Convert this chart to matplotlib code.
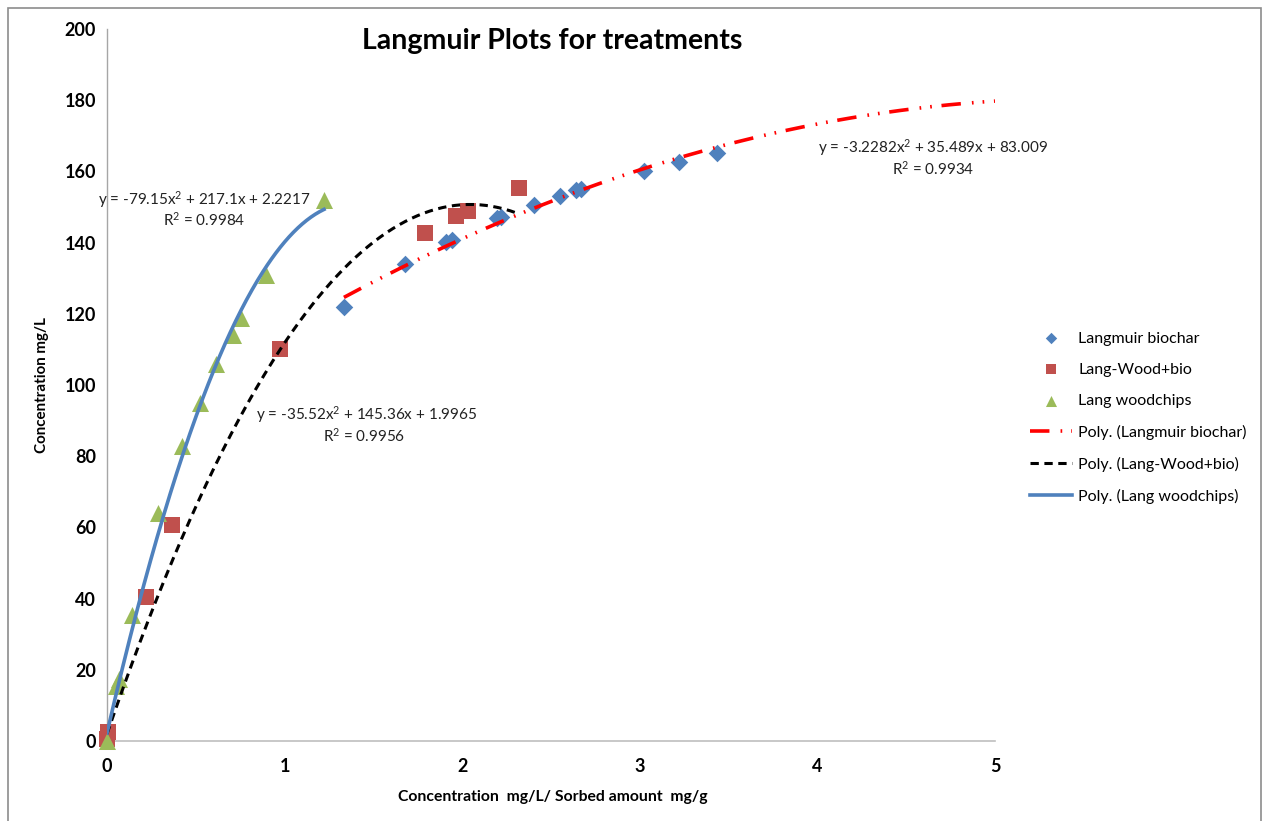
import numpy as np
import matplotlib
matplotlib.use("Agg")
import matplotlib.pyplot as plt
from matplotlib.patches import Rectangle

plt.rcParams['font.family'] = ['Lato', 'DejaVu Sans']
plt.rcParams['mathtext.fontset'] = 'custom'
plt.rcParams['mathtext.rm'] = 'Lato'
plt.rcParams['mathtext.it'] = 'Lato:italic'
plt.rcParams['mathtext.bf'] = 'Lato:bold'
plt.rcParams['lines.scale_dashes'] = False

# Langmuir biochar
biochar_x = [1.334, 1.678, 1.909, 1.943, 2.196, 2.218, 2.404, 2.551, 2.640, 2.669, 3.024, 3.220, 3.435]
biochar_y = [121.9, 134.0, 140.2, 140.7, 146.9, 147.2, 150.6, 153.1, 154.8, 155.1, 160.1, 162.6, 165.2]

# Lang-Wood+bio
woodbio_x = [0.000, 0.005, 0.220, 0.366, 0.974, 1.790, 1.965, 2.033, 2.320]
woodbio_y = [0.5, 2.5, 40.4, 60.7, 110.1, 142.7, 147.5, 148.9, 155.3]

# Lang woodchips
wood_x = [0.000, 0.050, 0.065, 0.141, 0.287, 0.422, 0.524, 0.614, 0.709, 0.754, 0.895, 1.222]
wood_y = [0.0, 15.5, 17.5, 35.4, 64.0, 82.9, 94.9, 105.9, 114.0, 118.8, 130.9, 152.0]

# Second-order polynomial trendline coefficients (a, b, c) for y = a x^2 + b x + c
biochar_fit = (-3.2282, 35.489, 83.009)
woodbio_fit = (-35.52, 145.36, 1.9965)
wood_fit = (-79.15, 217.1, 2.2217)

x_ticks = [0, 1, 2, 3, 4, 5]
y_ticks = [0, 20, 40, 60, 80, 100, 120, 140, 160, 180, 200]

W, H = 1266, 821
fig = plt.figure(figsize=(W / 100, H / 100), dpi=100)
fig.patch.set_facecolor('white')
fig.add_artist(Rectangle((8 / W, -0.05), (1261 - 8) / W, 1.05 - 8 / H,
                         transform=fig.transFigure, fill=False,
                         edgecolor='#8C8C8C', linewidth=1.2))

ax = fig.add_axes([107 / W, 1 - 741 / H, (995 - 107) / W, (741 - 29) / H])
ax.set_xlim(0, 5)
ax.set_ylim(0, 200)
for s in ['top', 'right']:
    ax.spines[s].set_visible(False)
ax.spines['left'].set_color('#A6A6A6')
ax.spines['bottom'].set_color('#BFBFBF')
ax.spines['left'].set_linewidth(1.0)
ax.spines['bottom'].set_linewidth(1.2)
ax.set_xticks(x_ticks)
ax.set_yticks(y_ticks)
ax.tick_params(length=0, labelsize=13)
for lab in ax.get_xticklabels() + ax.get_yticklabels():
    lab.set_fontweight('bold')
ax.tick_params(axis='y', pad=8)
ax.tick_params(axis='x', pad=12)


def poly(c, x):
    return c[0] * x ** 2 + c[1] * x + c[2]


xb = np.linspace(min(biochar_x), 5.0, 200)
xw = np.linspace(0, max(woodbio_x), 200)
xc = np.linspace(0, max(wood_x), 200)

ax.scatter(biochar_x, biochar_y, marker='D', s=80, color='#4F81BD', zorder=3,
           label='Langmuir biochar', linewidths=0, clip_on=False)
ax.scatter(woodbio_x, woodbio_y, marker='s', s=140, color='#C0504D', zorder=3,
           label='Lang-Wood+bio', linewidths=0, clip_on=False)
ax.scatter(wood_x, wood_y, marker='^', s=150, color='#9BBB59', zorder=3,
           label='Lang woodchips', linewidths=0, clip_on=False)

ax.plot(xb, poly(biochar_fit, xb), color='#FF0000', lw=2.6,
        dashes=(14, 8, 1.2, 6.5, 1.2, 7), zorder=4, label='Poly. (Langmuir biochar)')
ax.plot(xw, poly(woodbio_fit, xw), color='black', lw=2.2,
        dashes=(6, 4), zorder=4, label='Poly. (Lang-Wood+bio)')
ax.plot(xc, poly(wood_fit, xc), color='#4F81BD', lw=2.6, zorder=4,
        label='Poly. (Lang woodchips)')

eq_font = dict(fontsize=11.0, ha='center', va='center', color='#222222')


def px(xp, yp):
    return ((xp - 107) / 177.6, (741 - yp) / 3.56)


ax.text(*px(204, 200), 'y = -79.15x$^{2}$ + 217.1x + 2.2217', **eq_font)
ax.text(*px(204, 220), 'R$^{2}$ = 0.9984', **eq_font)
ax.text(*px(367, 415), 'y = -35.52x$^{2}$ + 145.36x + 1.9965', **eq_font)
ax.text(*px(364, 436), 'R$^{2}$ = 0.9956', **eq_font)
ax.text(*px(933, 148), 'y = -3.2282x$^{2}$ + 35.489x + 83.009', **eq_font)
ax.text(*px(933, 169), 'R$^{2}$ = 0.9934', **eq_font)

fig.text(552 / W, 1 - 41 / H, 'Langmuir Plots for treatments', fontsize=20.5,
         fontweight='bold', ha='center', va='center')
fig.text(553 / W, 1 - 797 / H, 'Concentration  mg/L/ Sorbed amount  mg/g',
         fontsize=11.3, fontweight='bold', ha='center', va='center')
fig.text(42 / W, 1 - 385 / H, 'Concentration mg/L', fontsize=10.9,
         fontweight='bold', ha='center', va='center', rotation=90)

handles, labels = ax.get_legend_handles_labels()
leg = fig.legend(handles, labels,
                 loc='upper left', bbox_to_anchor=(1016 / W, 1 - 317 / H),
                 frameon=False, fontsize=11.5, handlelength=2.6,
                 labelspacing=1.06, handletextpad=0.4, markerscale=0.65)

fig.savefig('out.png', dpi=100)
